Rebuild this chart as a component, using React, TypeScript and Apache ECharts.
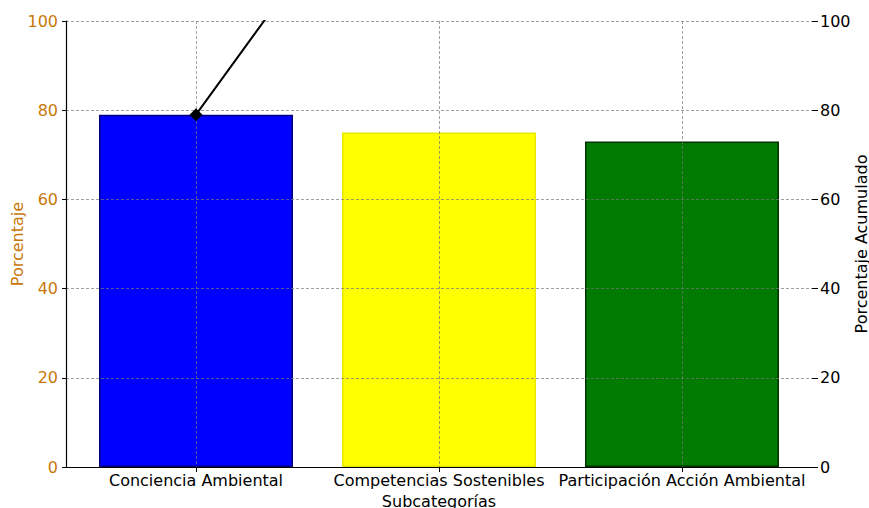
import React, { useEffect, useRef } from "react";
import * as echarts from "echarts";

const categories = ["Conciencia Ambiental", "Competencias Sostenibles", "Participación Acción Ambiental"];
const percentages = [79, 75, 73];
const cumulative = [79, 154, 227];
const barColors = ["#0000ff", "#ffff00", "#007a00"];
const barBorders = ["#000080", "#e8e800", "#003300"];

const FONT = "DejaVu Sans";
const ORANGE = "#c8780a";

export default function App() {
  const ref = useRef<HTMLDivElement>(null);
  useEffect(() => {
    if (!ref.current) return;
    const chart = echarts.init(ref.current, undefined, { renderer: "svg" });
    const idx = categories.map((_, i) => i);
    const gridLine = { show: true, lineStyle: { color: "rgba(120,120,120,0.7)", type: [3, 2] as any, width: 1 } };
    chart.setOption({
      animation: false,
      backgroundColor: "#ffffff",
      grid: { left: 66, right: 57, top: 21, bottom: 41, containLabel: false, outerBoundsMode: "none" },
      xAxis: {
        type: "value",
        min: -0.535,
        max: 2.535,
        z: 10,
        name: "Subcategorías",
        nameLocation: "middle",
        nameGap: 26,
        nameMoveOverlap: false,
        nameTextStyle: { fontFamily: FONT, fontSize: 16, lineHeight: 16, color: "#000" },
        axisLine: { show: true, onZero: false, lineStyle: { color: "#000", width: 1.2 } },
        axisTick: { show: true, customValues: idx, length: 5, lineStyle: { color: "#000" } },
        axisLabel: {
          customValues: idx,
          formatter: (v: number) => categories[Math.round(v)] ?? "",
          fontFamily: FONT,
          fontSize: 16,
          color: "#000",
          margin: 5,
        },
        splitLine: gridLine,
      },
      yAxis: [
        {
          type: "value",
          min: 0,
          max: 100,
          interval: 20,
          z: 10,
          name: "Porcentaje",
          nameLocation: "middle",
          nameGap: 41,
          nameMoveOverlap: false,
          nameTextStyle: { fontFamily: FONT, fontSize: 16, lineHeight: 16, color: ORANGE },
          axisLine: { show: true, onZero: false, lineStyle: { color: "#000", width: 1.2 } },
          axisTick: { show: true, length: 4, lineStyle: { color: "#000" } },
          axisLabel: { fontFamily: FONT, fontSize: 16, color: ORANGE, margin: 8 },
          splitLine: gridLine,
        },
        {
          type: "value",
          min: 0,
          max: 100,
          interval: 20,
          position: "right",
          name: "Porcentaje Acumulado",
          nameLocation: "middle",
          nameGap: 41,
          nameRotate: 90,
          nameMoveOverlap: false,
          nameTextStyle: { fontFamily: FONT, fontSize: 16, lineHeight: 16, color: "#000" },
          axisLine: { show: false, onZero: false },
          axisTick: { show: true, length: 6, lineStyle: { color: "#000" } },
          axisLabel: { fontFamily: FONT, fontSize: 16, color: "#000", margin: 8 },
          splitLine: { show: false },
        },
      ],
      series: [
        {
          type: "bar",
          xAxisIndex: 0,
          yAxisIndex: 0,
          barWidth: 194,
          z: 2,
          data: percentages.map((v, i) => ({
            value: [i, v],
            itemStyle: { color: barColors[i], borderColor: barBorders[i], borderWidth: 1.5 },
          })),
        },
        {
          type: "line",
          xAxisIndex: 0,
          yAxisIndex: 1,
          z: 20,
          clip: true,
          symbol: "diamond",
          symbolSize: 13,
          itemStyle: { color: "#000" },
          lineStyle: { color: "#000", width: 2 },
          data: cumulative.map((v, i) => [i, v]),
        },
      ],
    });
    return () => chart.dispose();
  }, []);
  return <div ref={ref} style={{ position: "absolute", left: 0, top: 0, width: 869, height: 508 }} />;
}
